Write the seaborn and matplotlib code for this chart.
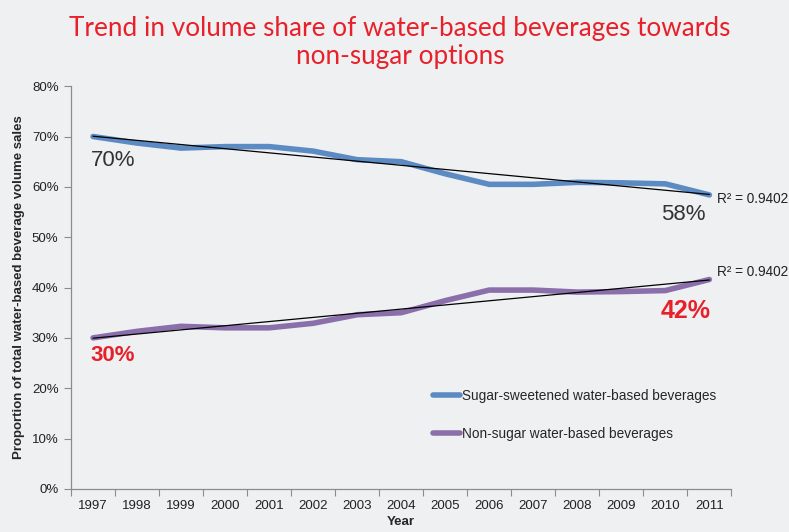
import numpy as np
import pandas as pd
import matplotlib
matplotlib.use("Agg")
import matplotlib.pyplot as plt
import seaborn as sns

# Volume share (%) of water-based beverages, 1997-2011
years = [1997, 1998, 1999, 2000, 2001, 2002, 2003, 2004, 2005,
         2006, 2007, 2008, 2009, 2010, 2011]
sugar_sweetened = [70.0, 68.7, 67.7, 68.0, 68.0, 67.1, 65.4, 65.0, 62.6,
                   60.5, 60.5, 60.9, 60.8, 60.6, 58.4]
non_sugar = [30.0, 31.3, 32.3, 32.0, 32.0, 32.9, 34.6, 35.0, 37.4,
             39.5, 39.5, 39.1, 39.2, 39.4, 41.6]
series_names = ["Sugar-sweetened water-based beverages",
                "Non-sugar water-based beverages"]
r_squared = ["0.9402", "0.9402"]
y_ticks = [0, 10, 20, 30, 40, 50, 60, 70, 80]

BG = "#eff0f2"
RED = "#e8202a"
colors = ["#5b8bc2", "#8a6fab"]

sns.set_theme(style="white")
plt.rcParams["font.family"] = ["Liberation Sans", "DejaVu Sans"]

pos = np.arange(len(years))
df = pd.DataFrame({
    "pos": np.concatenate([pos, pos]),
    "share": sugar_sweetened + non_sugar,
    "series": [series_names[0]] * len(years) + [series_names[1]] * len(years),
})

fig = plt.figure(figsize=(7.89, 5.32), dpi=100, facecolor=BG)
ax = fig.add_axes([0.090, 0.081, 0.837, 0.757])
ax.set_facecolor(BG)

sns.lineplot(data=df, x="pos", y="share", hue="series", hue_order=series_names,
             palette=colors, linewidth=4.0, ax=ax, solid_capstyle="round")

# Linear trend lines
for vals in (sugar_sweetened, non_sugar):
    sns.regplot(x=pos, y=np.array(vals), scatter=False, ci=None, ax=ax,
                line_kws={"color": "black", "linewidth": 0.9}, truncate=True)

ax.set_xlim(-0.5, len(years) - 0.5)
ax.set_ylim(0, 80)
ax.set_xticks(pos)
ax.set_xticklabels([str(y) for y in years], fontsize=9.5, color="#222222")
ax.set_xticks(np.arange(-0.5, len(years), 1.0), minor=True)
ax.tick_params(axis="x", which="major", length=0, pad=8)
ax.tick_params(axis="x", which="minor", length=5, color="#8c8c8c", width=0.8,
               direction="out", bottom=True)
ax.set_yticks(y_ticks)
ax.set_yticklabels([f"{t}%" for t in y_ticks], fontsize=9.5, color="#222222")
ax.tick_params(axis="y", length=5, color="#8c8c8c", width=0.8, left=True,
               direction="out", pad=4)

for side in ("top", "right"):
    ax.spines[side].set_visible(False)
for side in ("left", "bottom"):
    ax.spines[side].set_color("#8c8c8c")
    ax.spines[side].set_linewidth(0.9)

ax.set_xlabel("Year", fontsize=9.5, fontweight="bold", labelpad=3)
ax.set_ylabel("Proportion of total water-based beverage volume sales",
              fontsize=9.5, fontweight="bold", labelpad=5)

# Start and end value labels
ax.text(pos[0] - 0.05, sugar_sweetened[0] - 4.7, f"{round(sugar_sweetened[0])}%",
        fontsize=16, color="#333333", ha="left", va="center")
ax.text(pos[-1] - 1.1, sugar_sweetened[-1] - 3.9, f"{round(sugar_sweetened[-1])}%",
        fontsize=16, color="#333333", ha="left", va="center")
ax.text(pos[0] - 0.05, non_sugar[0] - 3.5, f"{round(non_sugar[0])}%",
        fontsize=16, fontweight="bold", color=RED, ha="left", va="center")
ax.text(pos[-1] - 1.1, non_sugar[-1] - 6.3, f"{round(non_sugar[-1])}%",
        fontsize=18, fontweight="bold", color=RED, ha="left", va="center")

# R-squared labels beside trend line ends
ax.text(pos[-1] + 0.18, sugar_sweetened[-1] - 0.8, f"R² = {r_squared[0]}",
        fontsize=9.8, color="#222222", ha="left", va="center", clip_on=False)
ax.text(pos[-1] + 0.18, non_sugar[-1] + 1.5, f"R² = {r_squared[1]}",
        fontsize=9.8, color="#222222", ha="left", va="center", clip_on=False)

leg = ax.legend(loc="upper left", bbox_to_anchor=(0.53, 0.279), frameon=False,
                fontsize=9.8, handlelength=2.0, handletextpad=0.1,
                labelspacing=1.75)
for line in leg.get_lines():
    line.set_linewidth(4.0)

fig.text(0.507, 0.92, "Trend in volume share of water-based beverages towards\nnon-sugar options",
         ha="center", va="center", fontsize=18.8, color=RED, family=["Lato", "DejaVu Sans"],
         linespacing=1.15)

fig.savefig("out.png", dpi=100, facecolor=BG)
